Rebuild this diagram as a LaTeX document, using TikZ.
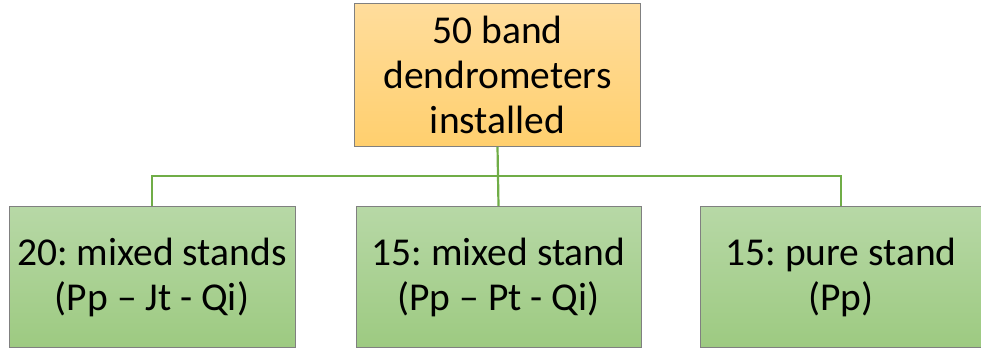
\documentclass[tikz,border=0pt]{standalone}
\usepackage{fontspec}
\setmainfont{Carlito}
\frenchspacing
\begin{document}
\begin{tikzpicture}[x=1pt,y=-1pt]
\definecolor{topA}{HTML}{FFDD9C}
\definecolor{topB}{HTML}{FFCF6E}
\definecolor{leafA}{HTML}{B7D8A6}
\definecolor{leafB}{HTML}{9DCA81}
\definecolor{linkgreen}{HTML}{70AD47}
\tikzset{boxbase/.style={draw=black!50, line width=0.8pt, inner sep=0pt, align=center,
    font=\fontsize{39.5}{45}\selectfont\frenchspacing},
  topbox/.style={boxbase, top color=topA, bottom color=topB},
  leafbox/.style={boxbase, top color=leafA, bottom color=leafB},
  conn/.style={draw=linkgreen, line width=2.2pt}}
\useasboundingbox (0,0) rectangle (981,349);
\node[topbox, minimum width=286, minimum height=143] (root) at (497.5,75) {50 band\\dendrometers\\installed};
\node[leafbox, minimum width=286, minimum height=141] (a) at (152,277) {20: mixed stands\\(Pp – Jt - Qi)};
\node[leafbox, minimum width=285, minimum height=141] (b) at (498.5,277) {15: mixed stand\\(Pp – Pt - Qi)};
\node[leafbox, minimum width=282, minimum height=141] (c) at (841,277) {15: pure stand\\(Pp)};
\coordinate (mid) at (498,176);
\draw[conn] (root.south) -- (mid);
\draw[conn] (a.north) |- (mid) -| (c.north);
\draw[conn] (mid) -- (b.north);
\end{tikzpicture}
\end{document}
